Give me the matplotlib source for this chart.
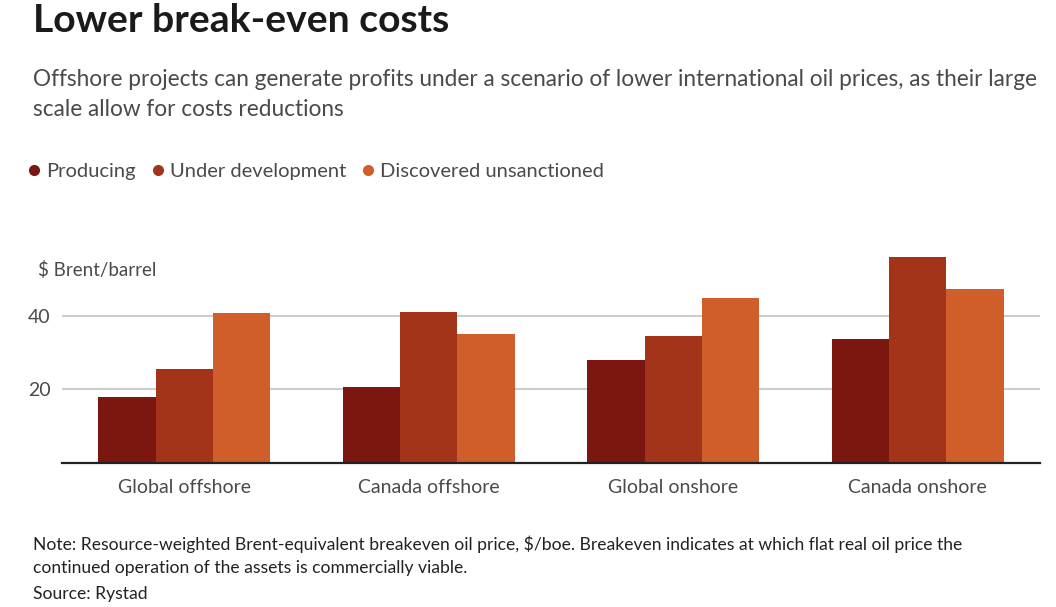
import matplotlib
matplotlib.use("Agg")
import matplotlib.pyplot as plt
from matplotlib.lines import Line2D
import numpy as np

categories = ["Global offshore", "Canada offshore", "Global onshore", "Canada onshore"]
series_names = ["Producing", "Under development", "Discovered unsanctioned"]
producing = [17.9, 20.7, 28.0, 33.7]
under_development = [25.6, 41.2, 34.6, 56.0]
discovered_unsanctioned = [40.8, 35.0, 44.8, 47.4]
series_values = [producing, under_development, discovered_unsanctioned]
colors = ["#7B1710", "#A3341A", "#D05E2B"]
yticks = [20, 40]

FONT = "Lato"
plt.rcParams['font.family'] = [FONT, 'DejaVu Sans']

fig = plt.figure(figsize=(10.56, 6.07), dpi=100)
ax = fig.add_axes([62/1056, 1-462.7/607, (1040-62)/1056, 0.3625])

x = np.arange(len(categories))
w = 0.234
for i, (vals, c) in enumerate(zip(series_values, colors)):
    ax.bar(x + (i-1)*w, vals, width=w, color=c, zorder=3, linewidth=0)

ax.set_xlim(-0.5, len(categories)-0.5)
ax.set_ylim(0, 60)
ax.set_yticks(yticks)
ax.set_yticklabels([str(t) for t in yticks])
ax.yaxis.grid(True, color="#cccccc", linewidth=1.5, zorder=0)
ax.set_xticks(x)
ax.set_xticklabels(categories)
ax.tick_params(axis='both', length=0, labelsize=14, colors="#4a4a4a")
ax.tick_params(axis='x', pad=12)
ax.tick_params(axis='y', pad=8)
for s in ["top", "right", "left"]:
    ax.spines[s].set_visible(False)
ax.spines["bottom"].set_color("#222222")
ax.spines["bottom"].set_linewidth(1.6)
ax.spines["bottom"].set_zorder(4)

fig.text(38/1056, 1-270/607, "$ Brent/barrel", fontsize=13.5, color="#4a4a4a",
         va="center", ha="left")

fig.text(33/1056, 1-21/607, "Lower break-even costs", fontsize=28.2, fontweight="bold",
         color="#1a1a1a", va="center", ha="left")
fig.text(33/1056, 1-79/607, "Offshore projects can generate profits under a scenario of lower international oil prices, as their large",
         fontsize=16.3, color="#4a4a4a", va="center", ha="left")
fig.text(33/1056, 1-109/607, "scale allow for costs reductions",
         fontsize=16.3, color="#4a4a4a", va="center", ha="left")

handles = [Line2D([], [], marker="o", linestyle="none", markersize=8, color=c,
                  markeredgewidth=0) for c in colors]
leg = fig.legend(handles, series_names, loc="center left", bbox_to_anchor=(24/1056, 1-171/607),
                 ncol=3, frameon=False, fontsize=14.5, handletextpad=0.1, columnspacing=0.6,
                 handlelength=1.0, borderaxespad=0, borderpad=0)
for t in leg.get_texts():
    t.set_color("#4a4a4a")

notes = ["Note: Resource-weighted Brent-equivalent breakeven oil price, $/boe. Breakeven indicates at which flat real oil price the",
         "continued operation of the assets is commercially viable.",
         "Source: Rystad"]
for txt, yy in zip(notes, [544, 568, 594]):
    fig.text(33/1056, 1-yy/607, txt, fontsize=12.6, color="#222222", va="center", ha="left")

fig.savefig("out.png", dpi=100)
